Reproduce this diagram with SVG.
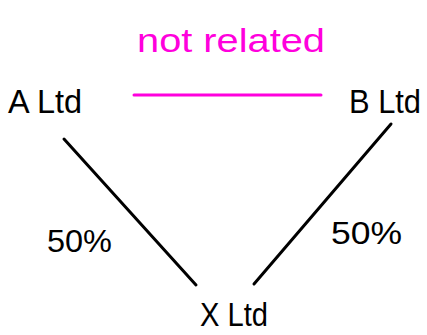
<svg xmlns="http://www.w3.org/2000/svg" width="427" height="335" viewBox="0 0 427 335">
<style>
.lbl{font-family:"Liberation Sans",Arial,sans-serif;font-size:34px;fill:#000}
.pct{font-family:"Liberation Sans",Arial,sans-serif;font-size:32px;fill:#000}
.rel{font-family:"Liberation Sans",Arial,sans-serif;font-size:34px;fill:#ff00dd}
.edge{stroke:#000;stroke-width:3;stroke-linecap:round;fill:none}
</style>
<rect width="427" height="335" fill="#fff"/>
<g id="connectors">
<line class="edge" x1="64" y1="139" x2="196" y2="285"/>
<line class="edge" x1="391" y1="124" x2="254" y2="284"/>
<line x1="134" y1="95" x2="321" y2="95" stroke="#ff00dd" stroke-width="3" stroke-linecap="round"/>
</g>
<g id="node-a"><text class="lbl" x="8" y="113" textLength="74" lengthAdjust="spacingAndGlyphs">A Ltd</text></g>
<g id="node-b"><text class="lbl" x="349" y="113" textLength="72" lengthAdjust="spacingAndGlyphs">B Ltd</text></g>
<g id="node-x"><text class="lbl" x="200" y="326" textLength="68" lengthAdjust="spacingAndGlyphs">X Ltd</text></g>
<g id="label-rel"><text class="rel" x="137" y="52" textLength="188" lengthAdjust="spacingAndGlyphs">not related</text></g>
<g id="label-a"><text class="pct" x="47" y="252" textLength="65" lengthAdjust="spacingAndGlyphs">50%</text></g>
<g id="label-b"><text class="pct" x="331" y="244" textLength="71" lengthAdjust="spacingAndGlyphs">50%</text></g>
</svg>
